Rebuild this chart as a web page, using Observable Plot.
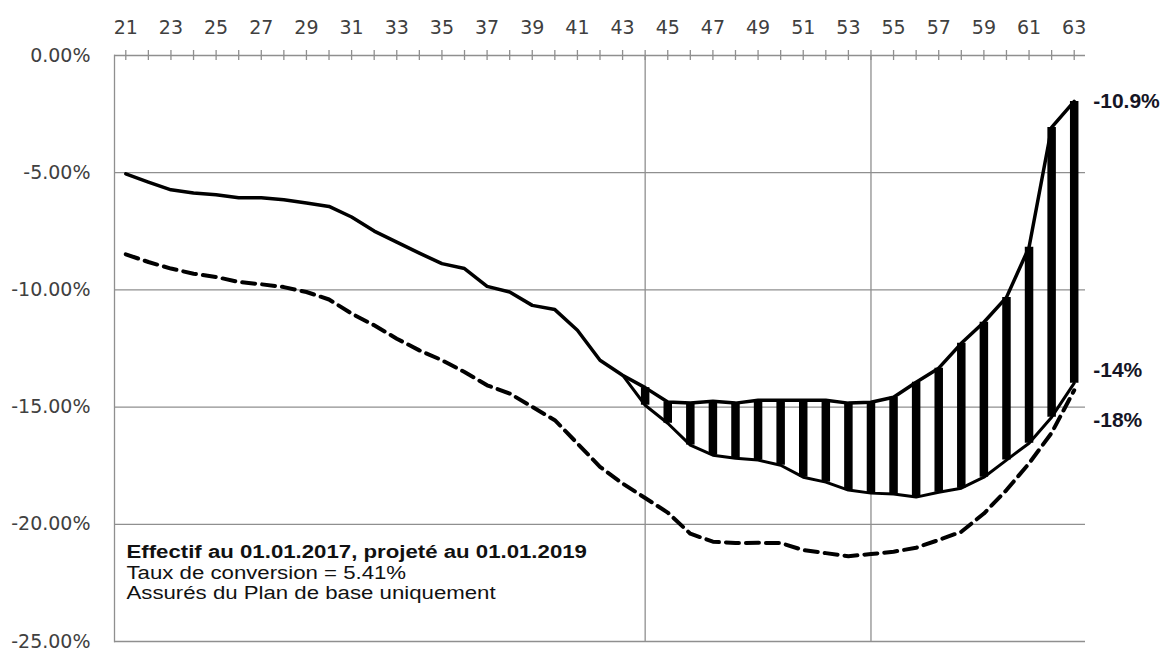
<!DOCTYPE html>
<html><head><meta charset="utf-8">
<script src="https://cdn.jsdelivr.net/npm/d3@7"></script>
<script src="https://cdn.jsdelivr.net/npm/@observablehq/plot@0.6"></script>
<style>html,body{margin:0;padding:0;background:#fff}</style>
</head><body><div id="chart"></div>
<script>
// Ages (category axis)
const ages = [21,22,23,24,25,26,27,28,29,30,31,32,33,34,35,36,37,38,39,40,41,42,43,44,45,46,47,48,49,50,51,52,53,54,55,56,57,58,59,60,61,62,63];
// Upper solid series (%)
const serieHaute = [-5.05,-5.40,-5.73,-5.87,-5.94,-6.07,-6.07,-6.15,-6.29,-6.44,-6.89,-7.49,-7.96,-8.43,-8.88,-9.09,-9.85,-10.09,-10.66,-10.84,-11.72,-13.00,-13.64,-14.17,-14.78,-14.83,-14.75,-14.83,-14.71,-14.71,-14.71,-14.71,-14.83,-14.79,-14.58,-13.94,-13.34,-12.28,-11.38,-10.32,-8.18,-3.07,-1.96];
// Lower solid series (%), ages 43..63
const agesBasse = [43,44,45,46,47,48,49,50,51,52,53,54,55,56,57,58,59,60,61,62,63];
const serieBasse = [-13.64,-14.92,-15.69,-16.62,-17.05,-17.18,-17.26,-17.48,-17.99,-18.20,-18.54,-18.67,-18.71,-18.84,-18.63,-18.46,-17.99,-17.26,-16.54,-15.43,-13.98];
// Dashed series (%)
const serieTiretee = [-8.48,-8.81,-9.09,-9.31,-9.45,-9.66,-9.76,-9.88,-10.09,-10.41,-11.01,-11.51,-12.08,-12.58,-13.00,-13.50,-14.07,-14.42,-14.99,-15.56,-16.55,-17.55,-18.26,-18.88,-19.50,-20.40,-20.74,-20.80,-20.79,-20.80,-21.10,-21.23,-21.36,-21.27,-21.17,-21.00,-20.67,-20.32,-19.54,-18.54,-17.40,-16.10,-14.28];
// Tick labels
const xTickLabels = [21,23,25,27,29,31,33,35,37,39,41,43,45,47,49,51,53,55,57,59,61,63];
const yTicks = [0,-5,-10,-15,-20,-25];
const xGrid = [44,54];
// End labels
const endLabels = ["-10.9%","-14%","-18%"];
// Notes
const noteTitle = "Effectif au 01.01.2017, projeté au 01.01.2019";
const noteLines = ["Taux de conversion = 5.41%","Assurés du Plan de base uniquement"];

const haute = ages.map((a,i)=>({age:a, v:serieHaute[i]}));
const basse = agesBasse.map((a,i)=>({age:a, v:serieBasse[i]}));
const tiretee = ages.map((a,i)=>({age:a, v:serieTiretee[i]}));
const barres = agesBasse.map((a,i)=>({age:a, top:serieHaute[ages.indexOf(a)], bottom:serieBasse[i]}));
const lastAge = ages[ages.length-1];

const axisFont = "DejaVu Sans, Verdana, sans-serif";
const textFont = "Liberation Sans, Arial, sans-serif";
const gridColor = "#8f8f8f";

const chart = Plot.plot({
  width: 1165, height: 648,
  marginLeft: 114, marginRight: 80, marginTop: 55, marginBottom: 7,
  style: {background: "#fff", overflow: "visible"},
  x: {domain: [20.5, 63.5]},
  y: {domain: [-25, 0]},
  marks: [
    Plot.gridY(yTicks, {stroke: gridColor, strokeOpacity: 1, strokeWidth: 1.3}),
    Plot.ruleX(xGrid, {stroke: gridColor, strokeWidth: 1.3}),
    Plot.frame({anchor: "left", stroke: gridColor, strokeWidth: 1.3}),
    Plot.ruleX(ages, {x: d=>d, y1: 0, y2: 0, insetTop: -5, insetBottom: -5, stroke: gridColor, strokeWidth: 1.3}),
    Plot.ruleX(barres, {x: "age", y1: "top", y2: "bottom", stroke: "#000", strokeWidth: 8.5}),
    Plot.line(tiretee, {x: "age", y: "v", stroke: "#000", strokeWidth: 4, strokeDasharray: "13,7"}),
    Plot.line(basse, {x: "age", y: "v", stroke: "#000", strokeWidth: 3}),
    Plot.line(haute, {x: "age", y: "v", stroke: "#000", strokeWidth: 3.5, strokeLinejoin: "round"}),
    Plot.axisX({anchor: "top", ticks: xTickLabels, tickSize: 0, tickPadding: 22, label: null,
      fontSize: 19, fontFamily: axisFont, fill: "#404040"}),
    Plot.axisY({ticks: yTicks, tickFormat: d => d.toFixed(2) + "%", tickSize: 0, tickPadding: 24, label: null,
      fontSize: 19, fontFamily: axisFont, fill: "#404040"}),
    Plot.text([endLabels[0]], {x: lastAge, y: serieHaute[serieHaute.length-1], text: d=>d, dx: 19, textAnchor: "start",
      fontSize: 21, fontWeight: "bold", fontFamily: textFont, fill: "#151525"}),
    Plot.text([endLabels[1]], {x: lastAge, y: serieBasse[serieBasse.length-1], text: d=>d, dx: 19, dy: -13, textAnchor: "start",
      fontSize: 21, fontWeight: "bold", fontFamily: textFont, fill: "#151525"}),
    Plot.text([endLabels[2]], {x: lastAge, y: serieTiretee[serieTiretee.length-1], text: d=>d, dx: 19, dy: 30, textAnchor: "start",
      fontSize: 21, fontWeight: "bold", fontFamily: textFont, fill: "#151525"}),
    Plot.text([noteTitle], {frameAnchor: "bottom-left", text: d=>d, dx: 12, dy: -84, textAnchor: "start",
      fontSize: 19, fontWeight: "bold", fontFamily: textFont, fill: "#111"}),
    Plot.text([noteLines.join("\n")], {frameAnchor: "bottom-left", text: d=>d, dx: 12, dy: -77, lineAnchor: "top", lineHeight: 1.05, textAnchor: "start",
      fontSize: 19, fontFamily: textFont, fill: "#111"})
  ]
});
// the reference's note text is horizontally stretched
d3.select(chart).selectAll("text")
  .filter(function() {
    const s = this.textContent || "";
    return s.startsWith("Effectif") || s.startsWith("Taux de conversion");
  })
  .each(function() {
    const t = this.getAttribute("transform");
    if (t) {
      this.setAttribute("transform", t + " scale(1.17,1)");
    } else {
      const x = +this.getAttribute("x") || 0, y = +this.getAttribute("y") || 0;
      this.removeAttribute("x"); this.removeAttribute("y");
      this.setAttribute("transform", `translate(${x},${y}) scale(1.17,1)`);
    }
  });
document.getElementById("chart").appendChild(chart);
</script>
</body></html>
